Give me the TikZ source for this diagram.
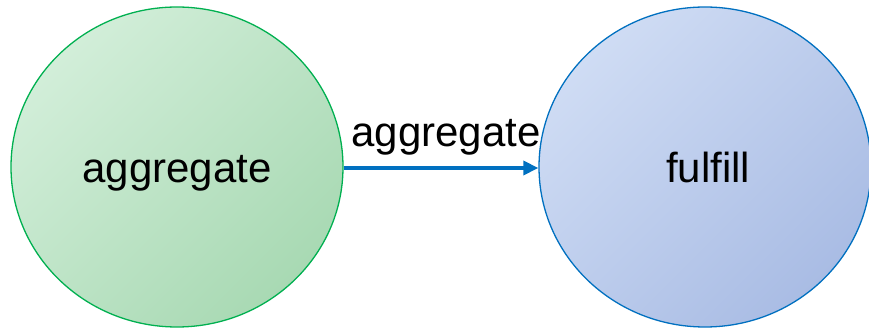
\documentclass[tikz,border=0pt]{standalone}
\usepackage{fontspec}
\setmainfont{Liberation Sans}
\usetikzlibrary{shapes.geometric,arrows.meta}
\definecolor{greenedge}{HTML}{00B050}
\definecolor{greenlight}{HTML}{D2EED9}
\definecolor{greendark}{HTML}{A8D9B3}
\definecolor{blueedge}{HTML}{0070C0}
\definecolor{bluelight}{HTML}{CFDCF4}
\definecolor{bluedark}{HTML}{A9BCE4}
\tikzset{
  statebubble/.style={ellipse, inner sep=0pt, minimum width=332pt, minimum height=320pt,
    line width=1.3pt, text height=32pt, text depth=0pt,
    font=\fontsize{42}{48}\selectfont},
  greenfill/.style={draw=greenedge, top color=greenlight, bottom color=greendark, shading angle=45},
  bluefill/.style={draw=blueedge, top color=bluelight, bottom color=bluedark, shading angle=45},
  flowarrow/.style={draw=blueedge, line width=3.5pt, -{Triangle[length=15pt,width=14pt]}},
  flowlabel/.style={anchor=base, inner sep=0pt, font=\fontsize{42}{48}\selectfont}
}
\begin{document}
\begin{tikzpicture}[x=1pt,y=-1pt]
  \useasboundingbox (0,0) rectangle (869,328);
  % the two states
  \node[statebubble, greenfill] (agg) at (177,167) {aggregate};
  \node[statebubble, bluefill] (ful) at (705,167) {\hspace*{6pt}fulfill};
  % transition between them
  \draw[flowarrow] (agg.east |- 0,168) -- node[flowlabel, yshift=21pt, xshift=5pt] (lbl) {aggregate} (ful.west |- 0,168);
\end{tikzpicture}
\end{document}
